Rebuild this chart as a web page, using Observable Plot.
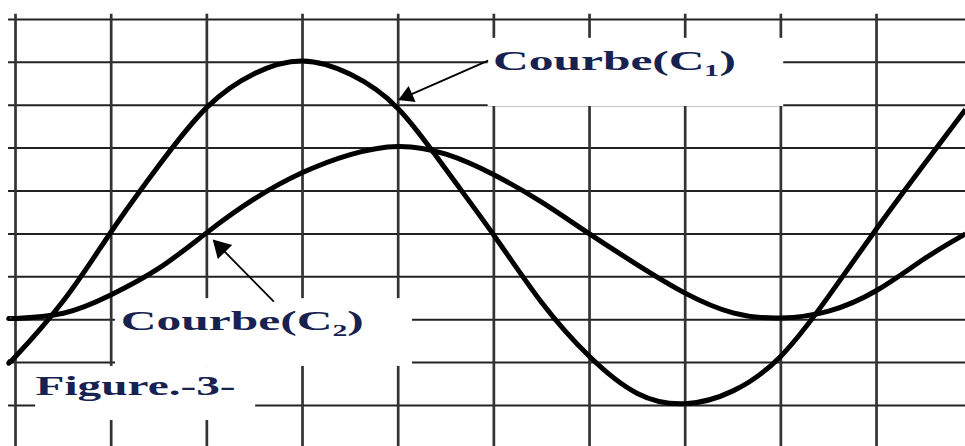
<!DOCTYPE html>
<html>
<head>
<meta charset="utf-8">
<script src="https://cdn.jsdelivr.net/npm/d3@7"></script>
<script src="https://cdn.jsdelivr.net/npm/@observablehq/plot@0.6"></script>
<style>
  html, body { margin: 0; padding: 0; background: #fff; }
  #chart svg { display: block; }
</style>
</head>
<body>
<div id="chart"></div>
<script>
// ---- data (grid units: 1 = one grid square) ----
const xGrid = [0, 1, 2, 3, 4, 5, 6, 7, 8, 9];
const yGrid = [-4, -3, -2, -1, 0, 1, 2, 3, 4, 5];

const sampleX = [-0.05, 0, 0.5, 1, 1.5, 2, 2.5, 3, 3.5, 4, 4.5, 5, 5.5, 6, 6.5, 7, 7.5, 8, 8.5, 9, 9.5, 9.93];
const c1Y = [-2.95, -2.86, -1.56, 0.05, 1.6, 2.95, 3.74, 4.03, 3.72, 2.92, 1.5, -0.03, -1.6, -2.86, -3.72, -3.96, -3.66, -2.85, -1.45, 0.12, 1.63, 2.9];
const c2Y = [-1.97, -1.97, -1.85, -1.42, -0.8, 0.03, 0.82, 1.43, 1.85, 2.04, 1.86, 1.38, 0.74, 0.0, -0.72, -1.38, -1.84, -1.96, -1.8, -1.32, -0.58, 0.0];

const labelTexts = ["Courbe(C\u2081)", "Courbe(C\u2082)", "Figure.-3-"];

// ---- layout (annotation placement, in grid units) ----
const xDomain = [-0.157, 9.93];
const yDomain = [-4.957, 5.442];
const W = 965, H = 446;

const labelLayout = [
  {x: 4.99, y: 4.03, size: 28, len: 243},
  {x: 1.10, y: -2.02, size: 28, len: 243},
  {x: 0.21, y: -3.56, size: 27, len: 200}
];
const boxes = [
  {x1: 4.94, x2: 8.03, y1: 2.97, y2: 4.56},
  {x1: 1.045, x2: 4.15, y1: -3.09, y2: -1.51},
  {x1: 0.21, x2: 2.51, y1: -4.35, y2: -3.09}
];
const arrows = [
  {x1: 4.94, y1: 4.04, x2: 4.01, y2: 3.13, head: 6.5},
  {x1: 2.70, y1: -1.58, x2: 2.07, y2: -0.15, head: 7.5}
];

// ---- build ----
const c1 = sampleX.map((x, i) => ({x, y: c1Y[i]}));
const c2 = sampleX.map((x, i) => ({x, y: c2Y[i]}));
const labels = labelTexts.map((t, i) => ({text: t, ...labelLayout[i]}));

const kx = W / (xDomain[1] - xDomain[0]);
const ky = H / (yDomain[1] - yDomain[0]);
const heads = arrows.map(a => {
  const dx = (a.x2 - a.x1) * kx, dy = -(a.y2 - a.y1) * ky;
  const L = Math.hypot(dx, dy), ux = dx / L, uy = dy / L;
  const back = a.head * 1.4;
  return {
    x: a.x2 - back * ux / kx,
    y: a.y2 + back * uy / ky,
    r: a.head,
    angle: Math.atan2(ux, -uy) * 180 / Math.PI
  };
});

const plot = Plot.plot({
  width: W,
  height: H,
  marginTop: 0, marginRight: 0, marginBottom: 0, marginLeft: 0,
  x: {domain: xDomain, axis: null},
  y: {domain: yDomain, axis: null},
  r: {type: "identity"},
  style: {background: "#fff"},
  marks: [
    Plot.ruleY(yGrid, {y: d => d, x1: -0.073, x2: xDomain[1], stroke: "#222", strokeWidth: 2}),
    Plot.ruleX(xGrid, {x: d => d, y1: 5.12, y2: yDomain[0], stroke: "#333", strokeWidth: 2.7}),
    Plot.rect(boxes, {x1: "x1", x2: "x2", y1: "y1", y2: "y2", fill: "white"}),
    Plot.line(c2, {x: "x", y: "y", curve: "natural", stroke: "#000", strokeWidth: 5, strokeLinecap: "butt"}),
    Plot.line(c1, {x: "x", y: "y", curve: "natural", stroke: "#000", strokeWidth: 5, strokeLinecap: "butt"}),
    Plot.link(arrows, {x1: "x1", y1: "y1", x2: "x2", y2: "y2", stroke: "#000", strokeWidth: 1.8}),
    Plot.dot(heads, {x: "x", y: "y", symbol: "triangle", r: "r", fill: "#000", stroke: null, rotate: "angle"}),
    Plot.text(labels, {x: "x", y: "y", text: "text", textAnchor: "start", lineAnchor: "middle",
      fontSize: d => d.size, fontWeight: "bold", fontFamily: "'Liberation Serif', 'Times New Roman', serif",
      fill: "#172250"})
  ]
});

document.getElementById("chart").append(plot);

// stretch the label glyphs horizontally like the reference
const textEls = plot.querySelectorAll('g[aria-label="text"] text');
textEls.forEach((t, i) => {
  if (labels[i]) {
    t.setAttribute("textLength", labels[i].len);
    t.setAttribute("lengthAdjust", "spacingAndGlyphs");
  }
});
</script>
</body>
</html>
